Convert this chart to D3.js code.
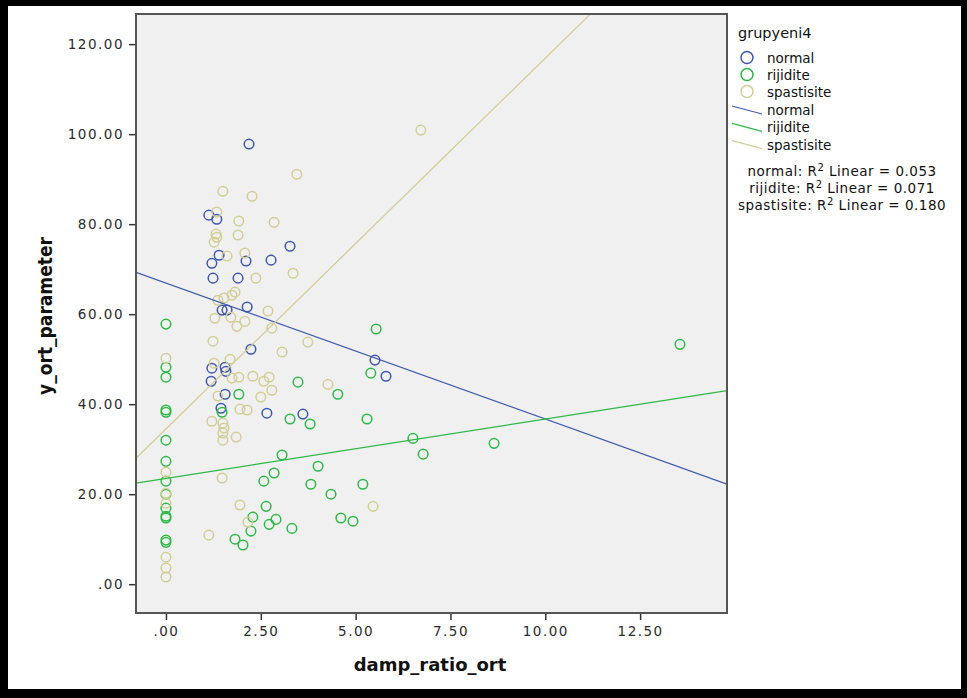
<!DOCTYPE html>
<html><head><meta charset="utf-8">
<script src="https://cdn.jsdelivr.net/npm/d3@7/dist/d3.min.js"></script>
<style>body{margin:0;background:#000;} svg{display:block;}</style>
</head><body>
<svg id="chart" width="967" height="698"></svg>
<script>
// ---- data ----
const groups = ["normal", "rijidite", "spastisite"];
const colors = ["#3E58AC", "#2EB848", "#D3CE97"];
const normalX = [2.19,1.13,1.34,3.27,1.40,1.21,2.11,2.77,1.24,1.90,1.48,1.61,2.14,2.24,5.51,5.80,1.21,1.56,1.58,1.19,1.56,1.45,2.66,3.61];
const normalY = [97.8,82.0,81.1,75.1,73.1,71.3,71.8,72.0,68.0,68.0,60.9,60.9,61.6,52.2,49.8,46.2,48.0,48.2,47.3,45.1,42.2,39.1,38.0,37.8];
const rijiditeX = [0,5.54,0,0,5.40,3.48,4.53,1.92,0,0,1.48,3.27,5.30,3.80,6.51,6.78,8.65,13.55,0,3.06,4.01,0,2.85,2.58,0,3.82,5.19,4.35,0,0,2.64,0,0,2.29,2.72,2.90,4.61,4.93,3.32,2.24,1.82,2.03,0,0];
const rijiditeY = [57.8,56.7,48.2,46.0,46.9,44.9,42.2,42.2,38.7,38.2,38.2,36.7,36.7,35.6,32.4,28.9,31.3,53.3,32.0,28.7,26.2,27.3,24.7,22.9,22.9,22.2,22.2,20.0,20.0,16.9,17.3,15.1,14.7,14.9,13.3,14.4,14.7,14.0,12.4,11.8,10.0,8.7,9.8,9.3];
const spastisiteX = [6.72,3.45,1.50,2.27,1.34,1.92,2.85,1.32,1.34,1.27,1.90,1.61,2.08,2.37,3.35,1.82,1.74,1.37,1.53,1.29,1.71,1.87,2.08,2.69,2.79,3.74,3.06,1.24,0,1.27,1.69,1.74,1.92,2.29,2.58,2.72,2.79,2.50,1.37,4.27,1.95,2.14,1.21,1.50,1.53,1.50,1.50,1.85,1.48,0,0,0,1.95,5.46,2.16,1.13,0,0,0];
const spastisiteY = [100.9,91.1,87.3,86.2,82.7,80.7,80.4,77.8,77.1,76.0,77.6,72.9,73.6,68.0,69.1,64.9,64.2,63.1,63.6,59.1,59.3,57.3,58.4,60.7,56.9,53.8,51.6,54.0,50.2,49.1,50.0,45.8,46.0,46.2,45.1,46.0,43.1,41.6,41.8,44.4,38.9,38.7,36.2,35.8,34.7,33.6,32.0,32.7,23.6,24.9,20.2,18.0,17.6,17.3,13.8,10.9,6.0,3.6,1.6];
// fitted linear lines (intercept, slope)
const fitIntercept = [66.9, 23.5, 34.5];
const fitSlope = [-3.02, 1.32, 8.24];
const r2Values = ["0.053", "0.071", "0.180"];
const xTicks = [0, 2.5, 5, 7.5, 10, 12.5];
const yTicks = [0, 20, 40, 60, 80, 100, 120];
const xDomain = [-0.79, 14.79];
const yDomain = [-6.4, 126.7];

const seriesX = [normalX, rijiditeX, spastisiteX];
const seriesY = [normalY, rijiditeY, spastisiteY];

const svg = d3.select("#chart");
// outer frame
svg.append("rect").attr("x",0).attr("y",0).attr("width",967).attr("height",698).attr("fill","#000");
svg.append("rect").attr("x",8).attr("y",6).attr("width",953).attr("height",683).attr("fill","#fff");

const L = 136, R = 727, T = 14, B = 613;
const x = d3.scaleLinear().domain(xDomain).range([L, R]);
const y = d3.scaleLinear().domain(yDomain).range([B, T]);

svg.append("defs").append("clipPath").attr("id","clip")
  .append("rect").attr("x",L).attr("y",T).attr("width",R-L).attr("height",B-T);

svg.append("rect").attr("x",L).attr("y",T).attr("width",R-L).attr("height",B-T)
  .attr("fill","#f0f0f0");

const fmt = v => { const s = v.toFixed(2); return s.startsWith("0.") ? s.slice(1) : s; };

// axes
const gx = svg.append("g").attr("transform",`translate(0,${B})`)
  .call(d3.axisBottom(x).tickValues(xTicks).tickFormat(fmt).tickSize(7).tickPadding(6));
const gy = svg.append("g").attr("transform",`translate(${L},0)`)
  .call(d3.axisLeft(y).tickValues(yTicks).tickFormat(fmt).tickSize(7).tickPadding(5));
[gx, gy].forEach(g => {
  g.select(".domain").remove();
  g.selectAll(".tick line").attr("stroke","#333").attr("stroke-width",1.5);
  g.selectAll(".tick text").attr("fill","#2a2a2a").style("font-family","DejaVu Sans")
    .style("font-size","13.5px").style("letter-spacing","1.5px");
});

// points
const plot = svg.append("g").attr("clip-path","url(#clip)");
groups.forEach((g, gi) => {
  plot.append("g").selectAll("circle")
    .data(seriesX[gi].map((v, i) => [v, seriesY[gi][i]]))
    .join("circle")
    .attr("cx", d => x(d[0])).attr("cy", d => y(d[1])).attr("r", 4.8)
    .attr("fill","none").attr("stroke", colors[gi]).attr("stroke-width",1.5);
});
// fit lines
groups.forEach((g, gi) => {
  const xs = xDomain;
  plot.append("line")
    .attr("x1", x(xs[0])).attr("y1", y(fitIntercept[gi] + fitSlope[gi]*xs[0]))
    .attr("x2", x(xs[1])).attr("y2", y(fitIntercept[gi] + fitSlope[gi]*xs[1]))
    .attr("stroke", colors[gi]).attr("stroke-width",1.3);
});

// frame
svg.append("rect").attr("x",L).attr("y",T).attr("width",R-L).attr("height",B-T)
  .attr("fill","none").attr("stroke","#555").attr("stroke-width",2);

// axis titles
svg.append("text").attr("x", 430).attr("y", 671).attr("text-anchor","middle")
  .style("font-family","DejaVu Sans").style("font-weight","bold").style("font-size","18px")
  .attr("fill","#111").text("damp_ratio_ort");
svg.append("text").attr("transform","translate(52,316) rotate(-90)").attr("text-anchor","middle")
  .style("font-family","DejaVu Sans Condensed, DejaVu Sans").style("font-weight","bold").style("font-size","19px")
  .attr("fill","#111").text("y_ort_parameter");

// legend
const lg = svg.append("g").style("font-family","DejaVu Sans").attr("fill","#111");
lg.append("text").attr("x",738).attr("y",38).style("font-size","14.5px").text("grupyeni4");
groups.forEach((g, gi) => {
  const cy = 57.5 + gi*17;
  lg.append("circle").attr("cx",747).attr("cy",cy).attr("r",6).attr("fill","none")
    .attr("stroke",colors[gi]).attr("stroke-width",1.5);
  lg.append("text").attr("x",767).attr("y",cy+5).style("font-size","13.5px").text(g);
});
groups.forEach((g, gi) => {
  const cy = 110 + gi*17.3;
  lg.append("line").attr("x1",732).attr("y1",cy-4).attr("x2",762).attr("y2",cy+4)
    .attr("stroke",colors[gi]).attr("stroke-width",1.2);
  lg.append("text").attr("x",767).attr("y",cy+5).style("font-size","13.5px").text(g);
});
groups.forEach((g, gi) => {
  const t = lg.append("text").attr("x",842).attr("y",176 + gi*17).attr("text-anchor","middle")
    .style("font-size","13.5px").style("letter-spacing","0.5px");
  t.append("tspan").text(g + ": R");
  t.append("tspan").attr("dy",-5).style("font-size","10px").text("2");
  t.append("tspan").attr("dy",5).text(" Linear = " + r2Values[gi]);
});
</script>
</body></html>
